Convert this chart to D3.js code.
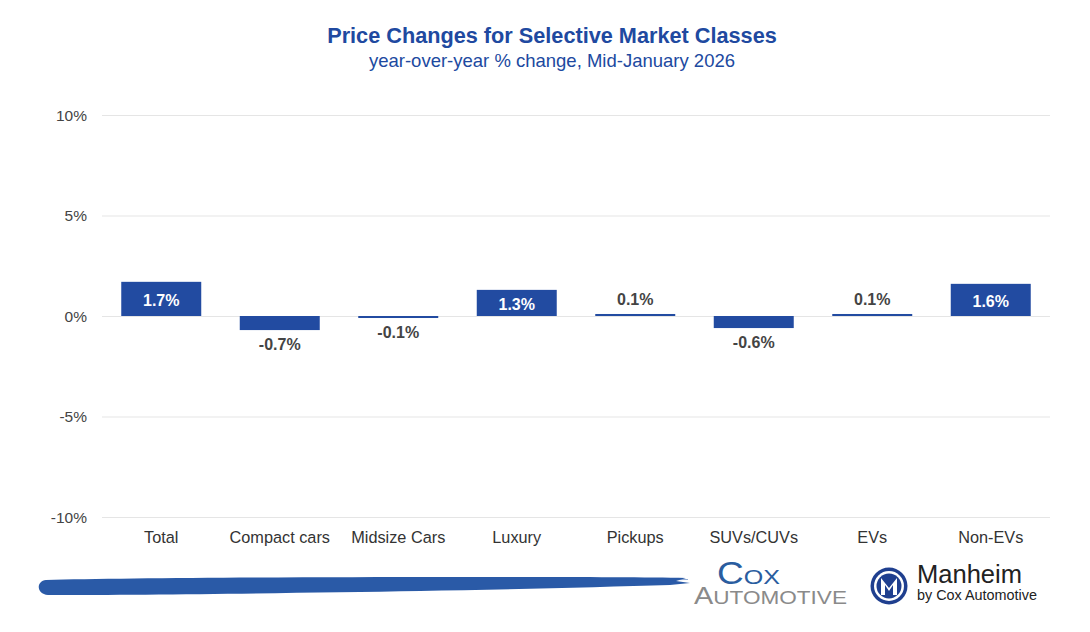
<!DOCTYPE html>
<html><head><meta charset="utf-8">
<script src="https://cdn.jsdelivr.net/npm/d3@7"></script>
<style>
html,body{margin:0;padding:0;background:#fff;}
svg{display:block;font-family:"Liberation Sans",Arial,Helvetica,sans-serif;}
</style></head>
<body>
<svg id="c" width="1090" height="632"></svg>
<script>
const categories = ["Total","Compact cars","Midsize Cars","Luxury","Pickups","SUVs/CUVs","EVs","Non-EVs"];
const values = [1.7,-0.7,-0.1,1.3,0.1,-0.6,0.1,1.6];
const yTicks = [-10,-5,0,5,10];
const title = "Price Changes for Selective Market Classes";
const subtitle = "year-over-year % change, Mid-January 2026";

const svg = d3.select("#c");
const blue = "#224ba1";
const m = {left:102, right:1050, top:115, bottom:517};

const x = d3.scaleBand().domain(categories).range([m.left, m.right]).paddingInner(0.325).paddingOuter(0.1625);
const y = d3.scaleLinear().domain([-10,10]).range([m.bottom, m.top]);

// title
svg.append("text").attr("x",552).attr("y",43).attr("text-anchor","middle")
  .attr("font-size",21.7).attr("font-weight","bold").attr("fill","#2049a0").text(title);
svg.append("text").attr("x",552).attr("y",67).attr("text-anchor","middle")
  .attr("font-size",18.5).attr("fill","#2049a0").text(subtitle);

// grid
const yAxis = d3.axisLeft(y).tickValues(yTicks).tickSize(-(m.right-m.left)).tickFormat(d=>d+"%").tickPadding(15);
const ga = svg.append("g").attr("transform",`translate(${m.left},0)`).call(yAxis);
ga.select(".domain").remove();
ga.selectAll(".tick line").attr("stroke","#e5e5e5").attr("stroke-width",1);
ga.selectAll(".tick text").attr("font-size",15.5).attr("fill","#444").attr("dy","0.35em");

// x labels
const xAxis = d3.axisBottom(x).tickSize(0).tickPadding(14);
const gx = svg.append("g").attr("transform",`translate(0,${m.bottom})`).call(xAxis);
gx.select(".domain").remove();
gx.selectAll(".tick text").attr("font-size",16.3).attr("fill","#333");

// bars
svg.append("g").selectAll("rect").data(values).join("rect")
  .attr("x",(d,i)=>x(categories[i]))
  .attr("width",x.bandwidth())
  .attr("y",d=>Math.min(y(d),y(0)))
  .attr("height",d=>Math.max(1.5,Math.abs(y(d)-y(0))))
  .attr("fill",blue);

// labels
svg.append("g").selectAll("text").data(values).join("text")
  .attr("x",(d,i)=>x(categories[i])+x.bandwidth()/2)
  .attr("y",d=>{
    if (d>=1) return (y(d)+y(0))/2 + 1;
    if (d>=0) return y(d)-15;
    return y(d)+14;
  })
  .attr("dy","0.35em")
  .attr("text-anchor","middle")
  .attr("font-size",16).attr("font-weight","bold")
  .attr("fill",d=>d>=1?"#fff":"#444")
  .text(d=>d.toFixed(1)+"%");

// footer brush stroke
const brush = svg.append("g");
brush.append("path")
  .attr("d","M46,580 C120,578 300,577 450,577 C560,577 640,577 686,578 L676,581 L690,583 L670,585 C600,587 500,590 420,591 C300,593 150,595 48,595 C36,594 36,581 46,580 Z")
  .attr("fill","#2a5aa7");
brush.append("path").attr("d","M600,579 L688,579 L688,580 L600,581 Z").attr("fill","#2a5aa7").attr("opacity",0.5);

// Cox Automotive logo
const narrow = "'Liberation Sans Narrow','Liberation Sans',sans-serif";
const cox = svg.append("text").attr("x",717).attr("y",584).attr("fill","#2a5d9f").attr("font-family",narrow)
  .attr("textLength",63).attr("lengthAdjust","spacingAndGlyphs");
cox.append("tspan").attr("font-size",31).text("C");
cox.append("tspan").attr("font-size",21).text("OX");
const auto = svg.append("text").attr("x",694).attr("y",604).attr("fill","#8a8a8a").attr("font-family",narrow)
  .attr("textLength",153).attr("lengthAdjust","spacingAndGlyphs");
auto.append("tspan").attr("font-size",23).text("A");
auto.append("tspan").attr("font-size",18).text("UTOMOTIVE");

// Manheim logo
const lg = svg.append("g").attr("transform","translate(889,586)");
lg.append("circle").attr("r",18.5).attr("fill","#1f3f8f");
lg.append("circle").attr("r",15).attr("fill","#fff");
lg.append("circle").attr("r",12.5).attr("fill","#1f3f8f");
lg.append("path").attr("d","M-8,9 L-8,-8 L0,2 L8,-8 L8,9 L4,9 L4,-1 L0,5 L-4,-1 L-4,9 Z").attr("fill","#fff");
svg.append("text").attr("x",917).attr("y",583).attr("font-size",25).attr("fill","#222")
  .attr("font-family",narrow).attr("textLength",105).attr("lengthAdjust","spacingAndGlyphs").text("Manheim");
svg.append("text").attr("x",917).attr("y",600).attr("font-size",14).attr("fill","#222")
  .attr("font-family",narrow).attr("textLength",120).attr("lengthAdjust","spacingAndGlyphs").text("by Cox Automotive");
</script>
</body></html>
